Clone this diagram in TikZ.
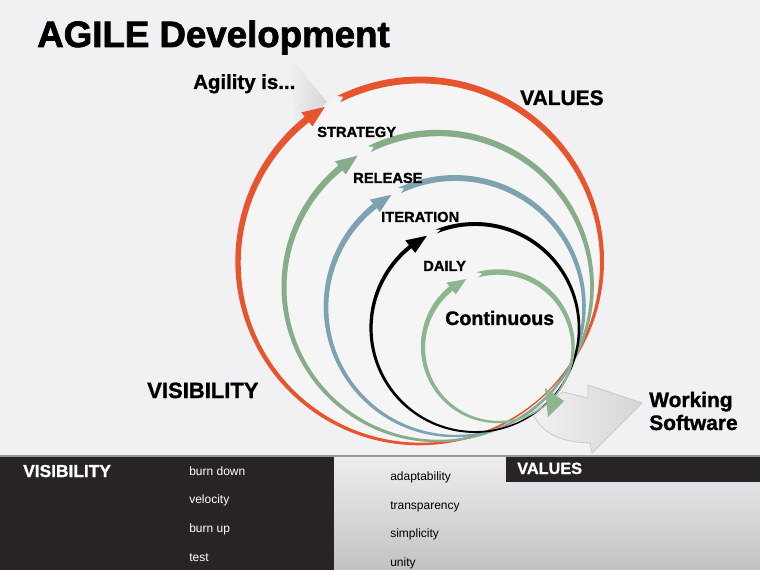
\documentclass[tikz,border=0pt]{standalone}
\usepackage{fontspec}
\setmainfont{Liberation Sans}
\newfontfamily\heavyfont[BoldFeatures={FakeBold=1.2}]{Liberation Sans}
\newfontfamily\heaviestfont[BoldFeatures={FakeBold=2}]{Liberation Sans}
\usetikzlibrary{calc}
\definecolor{bg}{HTML}{F1F0F2}
\definecolor{orng}{HTML}{E6552D}
\definecolor{grn}{HTML}{86AD88}
\definecolor{blu}{HTML}{7DA3B2}
\definecolor{dgrn}{HTML}{8DB68E}
\definecolor{dark}{HTML}{282425}
\definecolor{pale}{HTML}{D6D5D8}
\definecolor{paneltop}{HTML}{EEEDEF}
\definecolor{panelbot}{HTML}{C3C1C4}
% #1 cx, #2 cy, #3 r, #4 tip angle, #5 head length, #6 head width, #7 max width, #8 colour, #9 tail start angle
\newcommand{\spiralarc}[9]{%
 \pgfmathsetmacro\hb{#4-(#5)/(#3)*57.2958}%
 \pgfmathsetmacro\he{\hb+0.8}%
 \fill[#8] plot[domain=45:\he,samples=90] ({#1+(#3+0.5*(1.2+(#7-1.2)*(\x-45)/(\he-45)))*cos(\x)},{#2+(#3+0.5*(1.2+(#7-1.2)*(\x-45)/(\he-45)))*sin(\x)})
   -- plot[domain=\he:45,samples=90] ({#1+(#3-0.5*(1.2+(#7-1.2)*(\x-45)/(\he-45)))*cos(\x)},{#2+(#3-0.5*(1.2+(#7-1.2)*(\x-45)/(\he-45)))*sin(\x)}) -- cycle;
 \fill[#8] ({#1+(#3+#6/2)*cos(\hb)},{#2+(#3+#6/2)*sin(\hb)}) -- ({#1+#3*cos(#4)},{#2+#3*sin(#4)}) -- ({#1+(#3-#6/2)*cos(\hb)},{#2+(#3-#6/2)*sin(\hb)}) -- cycle;
 \fill[#8] plot[domain=#9:405,samples=120] ({#1+(#3+0.5*(#7-(#7-1.2)*((\x-#9)/(405-#9))^2))*cos(\x)},{#2+(#3+0.5*(#7-(#7-1.2)*((\x-#9)/(405-#9))^2))*sin(\x)})
   -- plot[domain=405:#9,samples=120] ({#1+(#3-0.5*(#7-(#7-1.2)*((\x-#9)/(405-#9))^2))*cos(\x)},{#2+(#3-0.5*(#7-(#7-1.2)*((\x-#9)/(405-#9))^2))*sin(\x)})
   -- ({#1+#3*cos(#9+300/#3)},{#2+#3*sin(#9+300/#3)}) -- cycle;
}
\tikzset{
 lbl/.style={anchor=base west,inner sep=0pt,font=\heavyfont\bfseries\fontsize{11}{12}\selectfont},
 big/.style={anchor=base west,inner sep=0pt,font=\heavyfont\bfseries\fontsize{15.7}{17}\selectfont},
 wtxt/.style={anchor=base west,inner sep=0pt,text=white,font=\fontsize{9}{10}\selectfont},
 btxt/.style={anchor=base west,inner sep=0pt,text=black,font=\fontsize{9}{10}\selectfont},
 ghost/.style={left color=bg,right color=pale,draw=pale!85!gray,line width=0.6}
}
\begin{document}
\begin{tikzpicture}[x=0.75pt,y=-0.75pt]
\useasboundingbox (0,0) rectangle (760,570);
\fill[bg] (0,0) rectangle (760,570);
% light glow inside the circles
\fill[white,opacity=0.35] (420,262) circle (183);
% grey pointer arrows
\path[ghost,draw=none] (289,56) -- (327,102) -- (296,128) -- cycle;
\path[ghost] (563,392) .. controls (575,395) .. (588,398) -- (588,385) -- (642,403) -- (592,453) -- (590,443) .. controls (555,442) and (540,430) .. (532,412) -- cycle;
% spirals
\spiralarc{420}{262}{182}{238.5}{22}{18}{7}{orng}{243.5}
\spiralarc{438}{287}{154}{238.5}{21}{17}{6.5}{grn}{243.5}
\spiralarc{455}{307}{129}{240.5}{20}{16}{6}{blu}{244.5}
\spiralarc{475}{328}{104}{242.5}{20}{16}{4}{black}{248}
\spiralarc{498}{347}{75}{245}{18}{15}{5.5}{dgrn}{254}
\fill[dgrn] (545,388) -- (564,401) -- (548,417) -- cycle;
% titles and labels
\node[anchor=base west,inner sep=0pt,font=\heaviestfont\bfseries\fontsize{27.5}{30}\selectfont] (title) at (37,47) {AGILE Development};
\node[anchor=base west,inner sep=0pt,font=\heavyfont\bfseries\fontsize{15.3}{17}\selectfont] (agil) at (193,89) {Agility is...};
\node[big] (valtop) at (520,105) {VALUES};
\node[lbl] (strat) at (317,137) {STRATEGY};
\node[lbl] (rel) at (353,183) {RELEASE};
\node[lbl] (iter) at (381,222) {ITERATION};
\node[lbl] (daily) at (423,271) {DAILY};
\node[anchor=base west,inner sep=0pt,font=\heavyfont\bfseries\fontsize{14.7}{16}\selectfont] (cont) at (445,325) {Continuous};
\node[anchor=base west,inner sep=0pt,font=\heavyfont\bfseries\fontsize{16.5}{18}\selectfont] (vismid) at (147,398) {VISIBILITY};
\node[big] (work) at (649,407) {Working};
\node[big] (soft) at (649,430) {Software};
% bottom panel
\shade[top color=paneltop,bottom color=panelbot] (334,457) rectangle (760,570);
\fill[dark] (0,457) rectangle (334,570);
\fill[dark] (506,457) rectangle (760,482);
\draw[gray!80,line width=1.2] (0,456) -- (760,456);
\node[anchor=base west,inner sep=0pt,text=white,font=\heavyfont\bfseries\fontsize{13}{14}\selectfont] (visbot) at (23,477) {VISIBILITY};
\node[anchor=base west,inner sep=0pt,text=white,font=\heavyfont\bfseries\fontsize{12.2}{14}\selectfont] (valbot) at (517,474) {VALUES};
\node[wtxt] (v1) at (189,475) {burn down};
\node[wtxt] (v2) at (189,503.5) {velocity};
\node[wtxt] (v3) at (189,532) {burn up};
\node[wtxt] (v4) at (189,561) {test};
\node[btxt] (a1) at (390,480) {adaptability};
\node[btxt] (a2) at (390,509) {transparency};
\node[btxt] (a3) at (390,537) {simplicity};
\node[btxt] (a4) at (390,566) {unity};
\end{tikzpicture}
\end{document}
